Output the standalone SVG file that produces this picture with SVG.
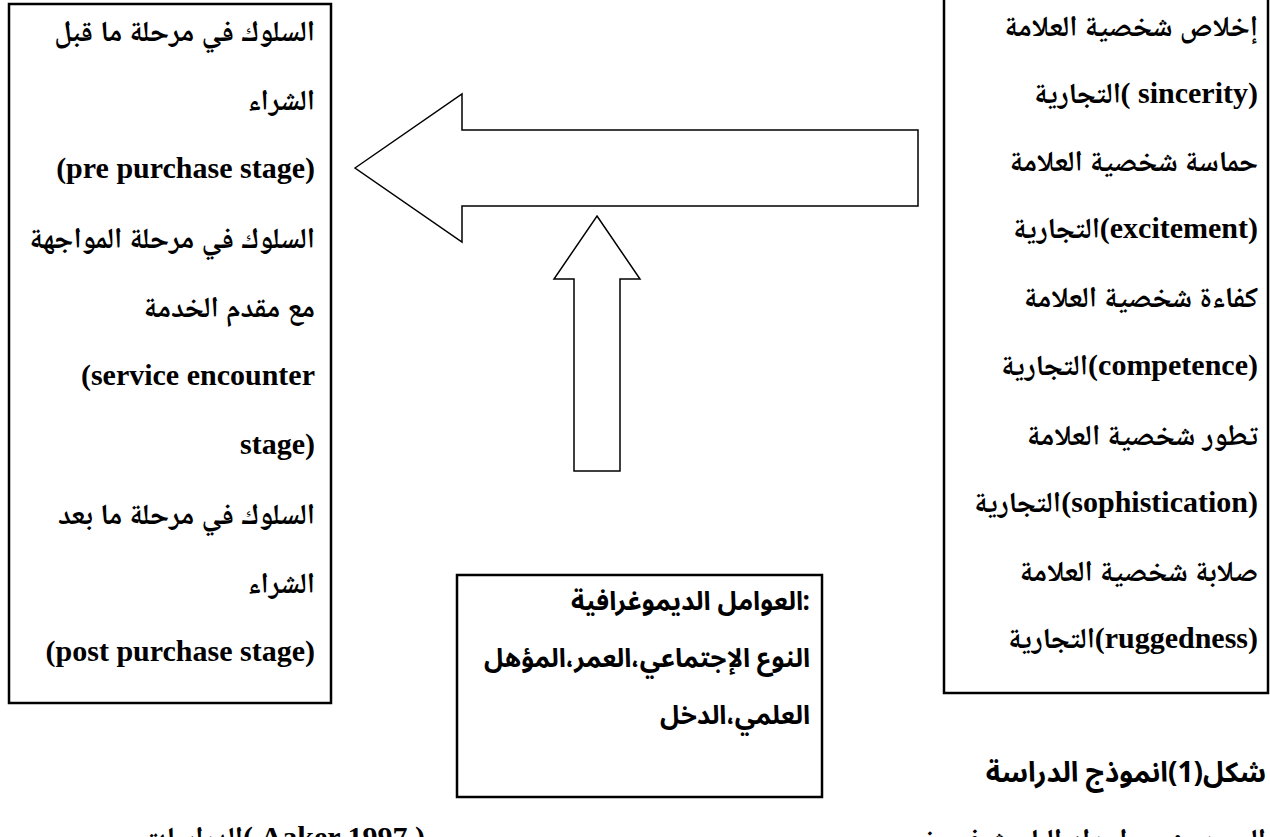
<svg xmlns="http://www.w3.org/2000/svg" width="1270" height="837" viewBox="0 0 1270 837">
<style>
.box{fill:#fff;stroke:#000;stroke-width:2.5}
.arrow{fill:#fff;stroke:#000;stroke-width:1.5;stroke-linejoin:miter}
.t{font-family:"Liberation Serif","Noto Naskh Arabic","DejaVu Sans",serif;font-weight:bold;font-size:30px;fill:#000}
.ar{font-size:29px}
.a{font-family:"Noto Sans Arabic","DejaVu Sans","Liberation Sans",sans-serif;font-weight:bold;font-size:26px;fill:#000}
</style>
<rect width="1270" height="837" fill="#fff"/>
<text class="t ar" x="1266" y="849" text-anchor="end">المصدر : من إعداد الباحث في ضوء</text>
<text class="t" x="425" y="847" text-anchor="end"><tspan class="ar">الدراسات</tspan>( Aaker 1997 )</text>
<g id="node-behaviour">
<rect class="box" x="9" y="4" width="322" height="699"/>
<text class="t ar" x="315" y="41" text-anchor="end">السلوك في مرحلة ما قبل</text>
<text class="t ar" x="315" y="110" text-anchor="end">الشراء</text>
<text class="t" x="315" y="178" text-anchor="end">(pre purchase stage)</text>
<text class="t ar" x="315" y="248" text-anchor="end">السلوك في مرحلة المواجهة</text>
<text class="t ar" x="315" y="317" text-anchor="end">مع مقدم الخدمة</text>
<text class="t" x="315" y="385" text-anchor="end">(service encounter</text>
<text class="t" x="315" y="454" text-anchor="end">stage)</text>
<text class="t ar" x="315" y="524" text-anchor="end">السلوك في مرحلة ما بعد</text>
<text class="t ar" x="315" y="593" text-anchor="end">الشراء</text>
<text class="t" x="315" y="661" text-anchor="end">(post purchase stage)</text>
</g>
<g id="node-personality">
<rect class="box" x="944" y="-5" width="324" height="698"/>
<text class="t ar" x="1258" y="36" text-anchor="end">إخلاص شخصية العلامة</text>
<text class="t ar" x="1121" y="103" text-anchor="end">التجارية</text>
<text class="t" x="1258" y="103" text-anchor="end">( sincerity)</text>
<text class="t ar" x="1258" y="171" text-anchor="end">حماسة شخصية العلامة</text>
<text class="t ar" x="1100" y="238" text-anchor="end">التجارية</text>
<text class="t" x="1258" y="238" text-anchor="end">(excitement)</text>
<text class="t ar" x="1258" y="307" text-anchor="end">كفاءة شخصية العلامة</text>
<text class="t ar" x="1088" y="375" text-anchor="end">التجارية</text>
<text class="t" x="1258" y="375" text-anchor="end">(competence)</text>
<text class="t ar" x="1258" y="445" text-anchor="end">تطور شخصية العلامة</text>
<text class="t ar" x="1061" y="512" text-anchor="end">التجارية</text>
<text class="t" x="1258" y="512" text-anchor="end">(sophistication)</text>
<text class="t ar" x="1258" y="581" text-anchor="end">صلابة شخصية العلامة</text>
<text class="t ar" x="1095" y="648" text-anchor="end">التجارية</text>
<text class="t" x="1258" y="648" text-anchor="end">(ruggedness)</text>
</g>
<g id="node-demographics">
<rect class="box" x="457" y="575" width="365" height="222"/>
<text class="a" x="803" y="610" text-anchor="end">العوامل الديموغرافية</text>
<text class="a" x="810" y="610" text-anchor="end">:</text>
<text class="a" x="810" y="667" text-anchor="end">النوع الإجتماعي،العمر،المؤهل</text>
<text class="a" x="810" y="724" text-anchor="end">العلمي،الدخل</text>
</g>
<g id="connectors">
<polygon class="arrow" points="355,168 462,94 462,130 918,130 918,206 462,206 462,242"/>
<polygon class="arrow" points="597,216 640,279 620,279 620,471 574,471 574,279 554,279"/>
</g>
<text class="a" x="1266" y="782" text-anchor="end" style="font-size:28px">شكل(1)انموذج الدراسة</text>
</svg>
